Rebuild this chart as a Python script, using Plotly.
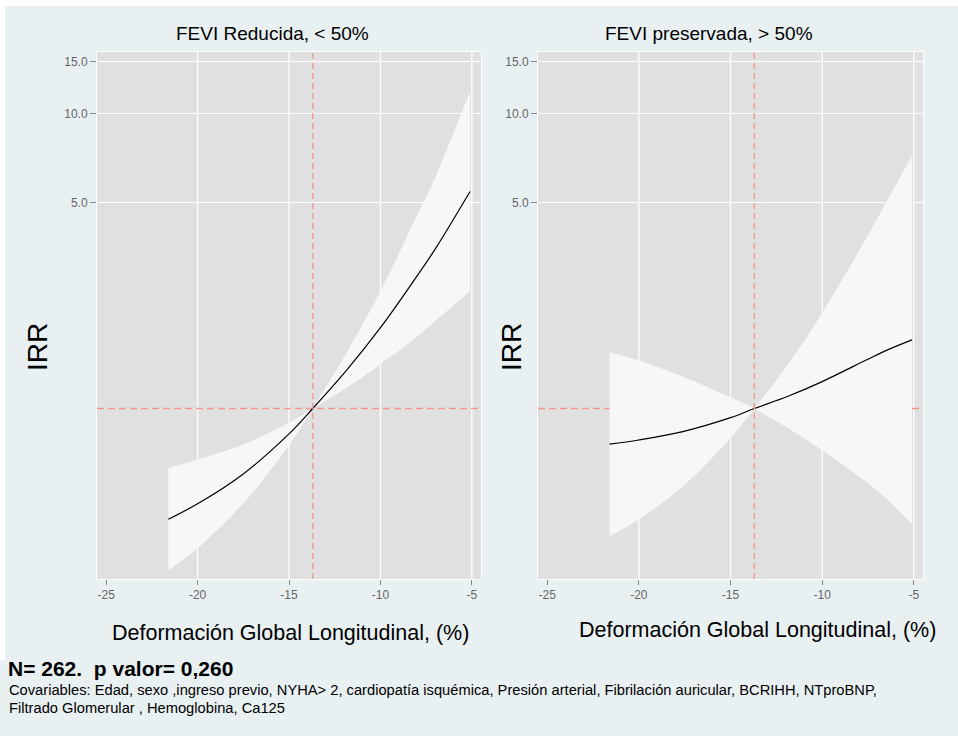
import math
import plotly.graph_objects as go

# ---------------- data ----------------
x_red = [-21.6, -20.0, -17.5, -15.0, -13.7, -11.8, -10.0, -8.2, -7.0, -5.1]
irr_red = [0.421, 0.475, 0.600, 0.820, 1.0, 1.36, 1.88, 2.70, 3.48, 5.45]
upper_red = [0.628, 0.671, 0.755, 0.895, 1.0, 1.567, 2.50, 4.26, 6.09, 11.9]
lower_red = [0.282, 0.336, 0.477, 0.751, 1.0, 1.18, 1.413, 1.71, 1.98, 2.50]

x_pres = [-21.6, -20.0, -17.6, -15.0, -13.7, -11.9, -10.0, -7.6, -6.5, -5.1]
irr_pres = [0.757, 0.782, 0.835, 0.931, 1.0, 1.098, 1.234, 1.46, 1.575, 1.71]
upper_pres = [1.553, 1.456, 1.282, 1.091, 1.0, 1.402, 2.109, 3.78, 5.02, 7.21]
lower_pres = [0.369, 0.420, 0.544, 0.794, 1.0, 0.860, 0.722, 0.564, 0.494, 0.405]

panel_titles = ["FEVI Reducida, < 50%", "FEVI preservada, > 50%"]
x_title = "Deformación Global Longitudinal, (%)"
y_title = "IRR"
x_ticks = [-25, -20, -15, -10, -5]
x_ticktext = ["-25", "-20", "-15", "-10", "-5"]
x_grid = [-20, -15, -10, -5]
y_ticks = [5, 10, 15]
y_ticktext = ["5.0", "10.0", "15.0"]
ref_x = -13.7
ref_y = 1.0
footer_bold = "N= 262.  p valor= 0,260"
footer_1 = ("Covariables: Edad, sexo ,ingreso previo, NYHA> 2, cardiopatía isquémica, "
            "Presión arterial, Fibrilación auricular, BCRIHH, NTproBNP,")
footer_2 = "Filtrado Glomerular , Hemoglobina, Ca125"

# ---------------- styling ----------------
W, H = 958, 736
PAPER = "#E9F0F2"
PLOT = "#E0E0E0"
BAND = "#F7F7F7"
DASH = "#F4968C"
FONT = "Liberation Sans, Arial, sans-serif"


def px_x(p):
    return p / W


def px_y(p):
    return 1 - p / H


fig = go.Figure()
CLEAR = "rgba(0,0,0,0)"

panels = [
    ("x", "y", x_red, irr_red, upper_red, lower_red),
    ("x2", "y2", x_pres, irr_pres, upper_pres, lower_pres),
]
for xa, ya, xs, mid, up, lo in panels:
    k = mid.index(1.0)  # crossing point of the confidence band
    for seg in (slice(0, k + 1), slice(k, len(xs))):
        fig.add_trace(go.Scatter(x=xs[seg], y=up[seg], xaxis=xa, yaxis=ya, mode="lines",
                                 line=dict(color=CLEAR, width=0, shape="spline", smoothing=1),
                                 hoverinfo="skip", showlegend=False))
        fig.add_trace(go.Scatter(x=xs[seg], y=lo[seg], xaxis=xa, yaxis=ya, mode="lines",
                                 fill="tonexty", fillcolor=BAND,
                                 line=dict(color=CLEAR, width=0, shape="spline", smoothing=1),
                                 hoverinfo="skip", showlegend=False))
    fig.add_trace(go.Scatter(x=xs, y=mid, xaxis=xa, yaxis=ya, mode="lines",
                             line=dict(color="black", width=1.2, shape="spline", smoothing=1),
                             showlegend=False))

shapes = []
for xa, ya in [("x", "y"), ("x2", "y2")]:
    for g in x_grid:
        shapes.append(dict(type="line", xref=xa, yref=f"{ya} domain", x0=g, x1=g, y0=0, y1=1,
                           line=dict(color="white", width=1.3), layer="below"))
    shapes.append(dict(type="line", xref=f"{xa} domain", yref=ya, x0=0, x1=1, y0=ref_y, y1=ref_y,
                       line=dict(color=DASH, width=1.6, dash="7px,4px"), layer="below"))
    shapes.append(dict(type="line", xref=xa, yref=f"{ya} domain", x0=ref_x, x1=ref_x, y0=0, y1=1,
                       line=dict(color=DASH, width=1.3, dash="6px,4px"), layer="above"))

# white strip on top and left edge of the picture
shapes.append(dict(type="rect", xref="paper", yref="paper", x0=0, x1=1, y0=px_y(6), y1=1,
                   line=dict(width=0), fillcolor="white", layer="below"))
shapes.append(dict(type="rect", xref="paper", yref="paper", x0=0, x1=px_x(5), y0=px_y(660), y1=1,
                   line=dict(width=0), fillcolor="white", layer="below"))

yrange = [math.log10(0.264), math.log10(16.2)]
xrange_ = [-25.5, -4.5]

xaxis_common = dict(range=xrange_, tickvals=x_ticks, ticktext=x_ticktext, ticks="outside",
                    ticklen=5, tickcolor="#888", tickwidth=1, showgrid=False, zeroline=False,
                    showline=True, linecolor="white", linewidth=1, mirror=True,
                    tickfont=dict(size=12, color="#666", family=FONT))
yaxis_common = dict(type="log", range=yrange, tickvals=y_ticks, ticktext=y_ticktext,
                    ticks="outside", ticklen=6, tickcolor="#888", showgrid=True,
                    gridcolor="white", gridwidth=1.3, zeroline=False, showline=True,
                    linecolor="white", linewidth=1, mirror=True,
                    tickfont=dict(size=12, color="#666", family=FONT))

ydom = [px_y(579), px_y(52)]
fig.update_layout(
    width=W, height=H,
    margin=dict(l=0, r=0, t=0, b=0),
    paper_bgcolor=PAPER, plot_bgcolor=PLOT,
    font=dict(family=FONT, color="black"),
    xaxis=dict(domain=[px_x(97), px_x(481)], anchor="y", **xaxis_common),
    yaxis=dict(domain=ydom, anchor="x", **yaxis_common),
    xaxis2=dict(domain=[px_x(538), px_x(923)], anchor="y2", **xaxis_common),
    yaxis2=dict(domain=ydom, anchor="x2", **yaxis_common),
    shapes=shapes,
    showlegend=False,
)

ann = []
ann.append(dict(text=panel_titles[0], x=px_x(272), y=px_y(33), xref="paper", yref="paper",
                showarrow=False, font=dict(size=19, family=FONT), xanchor="center", yanchor="middle"))
ann.append(dict(text=panel_titles[1], x=px_x(709), y=px_y(33), xref="paper", yref="paper",
                showarrow=False, font=dict(size=19, family=FONT), xanchor="center", yanchor="middle"))
for cx in (37, 511):
    ann.append(dict(text=y_title, x=px_x(cx), y=px_y(347), xref="paper", yref="paper",
                    showarrow=False, textangle=-90, font=dict(size=28, family=FONT),
                    xanchor="center", yanchor="middle"))
ann.append(dict(text=x_title, x=px_x(290), y=px_y(633), xref="paper", yref="paper",
                showarrow=False, font=dict(size=21.5, family=FONT), xanchor="center", yanchor="middle"))
ann.append(dict(text=x_title, x=px_x(757), y=px_y(630), xref="paper", yref="paper",
                showarrow=False, font=dict(size=21.5, family=FONT), xanchor="center", yanchor="middle"))
ann.append(dict(text=f"<b>{footer_bold}</b>", x=px_x(6), y=px_y(668), xref="paper", yref="paper",
                showarrow=False, font=dict(size=21, family=FONT), xanchor="left", yanchor="middle"))
ann.append(dict(text=footer_1, x=px_x(7), y=px_y(690), xref="paper", yref="paper",
                showarrow=False, font=dict(size=14.7, family=FONT), xanchor="left", yanchor="middle"))
ann.append(dict(text=footer_2, x=px_x(7), y=px_y(708), xref="paper", yref="paper",
                showarrow=False, font=dict(size=14.7, family=FONT), xanchor="left", yanchor="middle"))
fig.update_layout(annotations=ann)

fig.write_html("out.html")
